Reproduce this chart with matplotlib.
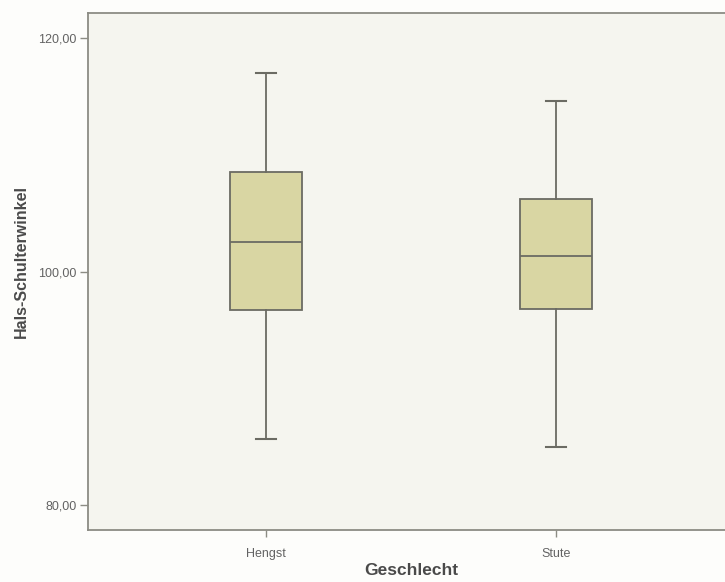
import matplotlib
matplotlib.use("Agg")
import matplotlib.pyplot as plt

plt.rcParams['font.family'] = ['Liberation Sans', 'DejaVu Sans']

# Box plot summary per group (Hals-Schulterwinkel in degrees)
categories = ["Hengst", "Stute"]
whisker_low = [85.66, 85.00]
q1 = [96.72, 96.77]
median = [102.49, 101.29]
q3 = [108.49, 106.20]
whisker_high = [117.03, 114.63]
y_ticks = [80, 100, 120]
y_tick_labels = ["80,00", "100,00", "120,00"]

line_col = "#6b6b63"
spine_col = "#8c8c84"
box_fill = "#d9d6a3"
face_col = "#f5f5ef"

fig = plt.figure(figsize=(7.25, 5.82), dpi=100)
fig.patch.set_facecolor("#fdfdfb")
ax = fig.add_axes([88 / 725, 52 / 582, 646 / 725, 517.3 / 582])
ax.set_facecolor(face_col)

stats = []
for name, lo, a, m, b, hi in zip(categories, whisker_low, q1, median, q3, whisker_high):
    stats.append(dict(label=name, whislo=lo, q1=a, med=m, q3=b, whishi=hi, fliers=[]))

ax.bxp(stats, positions=range(len(categories)), widths=0.25, capwidths=0.066,
       patch_artist=True, showfliers=False,
       boxprops=dict(facecolor=box_fill, edgecolor=line_col, linewidth=1.3),
       medianprops=dict(color=line_col, linewidth=1.3),
       whiskerprops=dict(color=line_col, linewidth=1.3),
       capprops=dict(color=line_col, linewidth=1.5))

ax.set_xlim(-0.614, 1.614)
ax.set_ylim(77.86, 122.17)
ax.set_yticks(y_ticks)
ax.set_yticklabels(y_tick_labels)
ax.set_xticks(range(len(categories)))
ax.set_xticklabels(categories)

for s in ax.spines.values():
    s.set_color(spine_col)
    s.set_linewidth(1.3)

ax.tick_params(axis="y", direction="out", length=6, width=1.0, color=spine_col,
               labelsize=9, labelcolor="#636363", pad=2)
ax.tick_params(axis="x", direction="out", length=5, width=1.0, color=spine_col,
               labelsize=9, labelcolor="#636363", pad=8)

ax.set_xlabel("Geschlecht", fontsize=12.5, fontweight="bold", color="#4a4a4a", labelpad=2)
ax.set_ylabel("Hals-Schulterwinkel", fontsize=11.5, fontweight="bold", color="#4a4a4a")
ax.yaxis.set_label_coords(-(88 - 29) / 646, (530 - 262) / 517.3)

fig.savefig("out.png", dpi=100, facecolor=fig.get_facecolor())
